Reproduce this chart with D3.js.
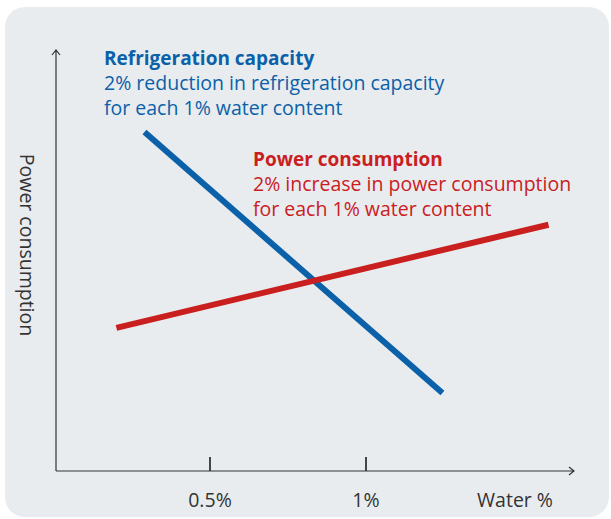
<!DOCTYPE html>
<html>
<head>
<meta charset="utf-8">
<script src="https://cdn.jsdelivr.net/npm/d3@7"></script>
<style>
  html, body { margin: 0; padding: 0; background: #fff; }
  svg { display: block; font-family: "Open Sans", "Noto Sans", sans-serif; }
</style>
</head>
<body>
<svg id="chart" width="611" height="519"></svg>
<script>
// water content (%) vs relative level
const xTicks = [0.5, 1];
const xTickLabels = ["0.5%", "1%"];
const capacity = [
  { water: 0.29, level: 80.5 },
  { water: 1.245, level: 18.5 },
];
const power = [
  { water: 0.2, level: 34 },
  { water: 1.585, level: 58.5 },
];
const capacityText = [
  "Refrigeration capacity",
  "2% reduction in refrigeration capacity",
  "for each 1% water content",
];
const powerText = [
  "Power consumption",
  "2% increase in power consumption",
  "for each 1% water content",
];

const blue = "#0b61a9";
const red = "#c9201f";
const ink = "#333";

const svg = d3.select("#chart");

svg.append("rect")
  .attr("x", 5).attr("y", 7)
  .attr("width", 604).attr("height", 510)
  .attr("rx", 20)
  .attr("fill", "#e9ecee");

const x = d3.scaleLinear().domain([0, 1]).range([54, 366]);
const y = d3.scaleLinear().domain([0, 100]).range([471, 50]);

// axes with arrows
const ax = svg.append("g").attr("stroke", ink).attr("fill", "none");
ax.append("path")
  .attr("stroke-width", 1.2)
  .attr("d", `M56,${y(0)}H574M569,${y(0) - 4}L574,${y(0)}L569,${y(0) + 4}`);
ax.append("path")
  .attr("stroke-width", 1.2)
  .attr("d", `M56,${y(0)}V50M52,55L56,50L60,55`);

ax.selectAll(".tick")
  .data(xTicks)
  .join("line")
  .attr("x1", (d) => x(d)).attr("x2", (d) => x(d))
  .attr("y1", y(0) - 14).attr("y2", y(0))
  .attr("stroke-width", 1.8);

svg.selectAll(".tlabel")
  .data(xTicks)
  .join("text")
  .attr("x", (d) => x(d))
  .attr("y", 507)
  .attr("text-anchor", "middle")
  .attr("font-size", 19.5)
  .attr("fill", ink)
  .text((d, i) => xTickLabels[i]);

svg.append("text")
  .attr("x", 553).attr("y", 507)
  .attr("text-anchor", "end")
  .attr("font-size", 19.5)
  .attr("fill", ink)
  .text("Water %");

svg.append("text")
  .attr("transform", "translate(20,245) rotate(90)")
  .attr("text-anchor", "middle")
  .attr("font-size", 19.5)
  .attr("fill", ink)
  .text("Power consumption");

const line = d3.line().x((d) => x(d.water)).y((d) => y(d.level));

svg.append("path")
  .attr("d", line(capacity))
  .attr("stroke", blue).attr("stroke-width", 6).attr("fill", "none");
svg.append("path")
  .attr("d", line(power))
  .attr("stroke", red).attr("stroke-width", 6).attr("fill", "none");

const note = (lines, color, x0, y0) =>
  svg.append("text")
    .attr("fill", color)
    .selectAll("tspan")
    .data(lines)
    .join("tspan")
    .attr("x", x0)
    .attr("y", (d, i) => y0 + i * 25)
    .attr("font-size", (d, i) => (i === 0 ? 19 : 19.5))
    .attr("font-weight", (d, i) => (i === 0 ? "bold" : "normal"))
    .text((d) => d);

note(capacityText, blue, 104, 65);
note(powerText, red, 253, 166);
</script>
</body>
</html>
